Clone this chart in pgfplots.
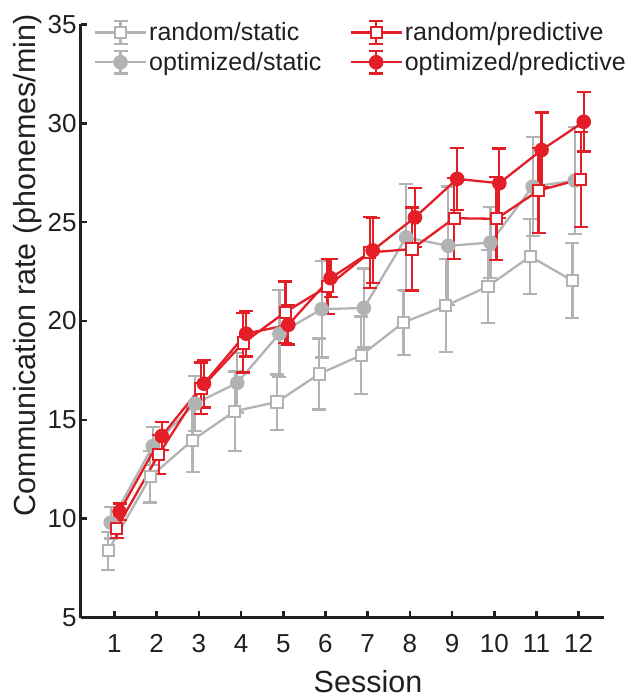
\documentclass[border=0pt]{standalone}
\usepackage{fontspec}
\setmainfont{Liberation Sans}
\usepackage{pgfplots}
\usepackage{pgfplotstable}
\pgfplotsset{compat=1.18}

\definecolor{sgray}{RGB}{178,179,181}
\definecolor{pred}{RGB}{228,30,38}
\definecolor{axdark}{RGB}{35,31,32}

% session, mean rate, error (phonemes/min)
\pgfplotstableread{
s  y      e
1  8.37   0.95
2  12.12  1.30
3  13.97  1.60
4  15.44  2.00
5  15.90  1.40
6  17.32  1.80
7  18.27  1.95
8  19.93  1.65
9  20.77  2.35
10 21.75  1.85
11 23.27  1.90
12 22.04  1.90
}\randstatic
\pgfplotstableread{
s  y      e
1  9.80   0.80
2  13.67  0.96
3  15.82  1.40
4  16.87  1.50
5  19.36  2.20
6  20.60  2.45
7  20.66  2.00
8  24.23  2.70
9  23.80  3.00
10 23.97  1.80
11 26.80  2.50
12 27.10  2.70
}\optstatic
\pgfplotstableread{
s  y      e
1  9.51   0.50
2  13.25  1.00
3  16.60  1.30
4  18.89  1.50
5  20.45  1.55
6  21.75  1.40
7  23.47  1.80
8  23.64  2.10
9  25.20  2.05
10 25.17  2.10
11 26.60  2.15
12 27.17  2.40
}\randpred
\pgfplotstableread{
s  y      e
1  10.35  0.42
2  14.18  0.70
3  16.83  1.20
4  19.36  1.15
5  19.81  1.00
6  22.17  0.95
7  23.57  1.65
8  25.24  1.50
9  27.19  1.56
10 26.97  1.75
11 28.65  1.90
12 30.08  1.50
}\optpred

\pgfplotsset{
  ebar/.style={
    error bars/.cd, y dir=both, y explicit,
    error bar style={line width=2.3pt, draw=#1},
    error mark options={rotate=90, mark size=7pt, line width=2.3pt, draw=#1},
    /pgfplots/.cd,
  },
  % legend sample: line, capped bar and marker
  legimg/.style={
    legend image code/.code={
      \draw[draw=#1, line width=2.3pt] (0pt,0pt) -- (51pt,0pt);
      \draw[draw=#1, line width=2.3pt] (25.5pt,-11.3pt) -- (25.5pt,11.3pt);
      \draw[draw=#1, line width=2.3pt] (18.5pt,-11.3pt) -- (32.5pt,-11.3pt);
      \draw[draw=#1, line width=2.3pt] (18.5pt,11.3pt) -- (32.5pt,11.3pt);
      \path[##1] plot coordinates {(25.5pt,0pt)};
    }
  },
}

\begin{document}
\begin{tikzpicture}
\useasboundingbox (-80.7pt,-80.5pt) rectangle (553.3pt,617.5pt);
\begin{axis}[
  scale only axis,
  width=523.3pt, height=593pt,
  xmin=0.2, xmax=12.6,
  ymin=5, ymax=35,
  axis x line*=bottom, axis y line*=left,
  axis line style={line width=3pt, color=axdark},
  xtick={1,...,12},
  ytick={5,10,...,35},
  tick align=inside,
  major tick length=6pt,
  tick style={line width=2.5pt, color=axdark},
  /pgf/number format/assume math mode=true,
  ticklabel style={font=\fontsize{26}{30}\selectfont, text=axdark},
  xticklabel style={inner sep=0pt, yshift=-17pt},
  yticklabel style={inner sep=0pt, xshift=-4pt},
  xlabel={Session},
  ylabel={Communication rate (phonemes/min)},
  every axis x label/.style={at={(rel axis cs:0.549,0)}, yshift=-64.5pt, anchor=center,
    font=\fontsize{30.5}{34}\selectfont, text=axdark},
  every axis y label/.style={at={(rel axis cs:0,0.594)}, xshift=-52.7pt, rotate=90, anchor=center,
    font=\fontsize{30.5}{34}\selectfont, text=axdark},
  legend columns=2,
  transpose legend,
  legend cell align=left,
  legend style={draw=none, fill=none, at={(rel axis cs:0,1)}, anchor=north west,
    xshift=10pt, yshift=6.5pt,
    font=\fontsize{25}{28}\selectfont, text=axdark,
    /tikz/every even column/.append style={column sep=26pt},
    row sep=4.7pt},
]
\addplot[color=sgray, line width=2.3pt, mark=square*,
  mark options={fill=white, draw=sgray, line width=2pt, mark size=5.6pt},
  legimg=sgray, ebar=sgray]
  table[x expr=\thisrow{s}-0.15, y=y, y error=e]{\randstatic};
\addlegendentry{random/static}
\addplot[color=sgray, line width=2.3pt, mark=*,
  mark options={fill=sgray, draw=sgray, line width=1pt, mark size=6.8pt},
  legimg=sgray, ebar=sgray]
  table[x expr=\thisrow{s}-0.09, y=y, y error=e]{\optstatic};
\addlegendentry{optimized/static}
\addplot[color=pred, line width=2.3pt, mark=square*,
  mark options={fill=white, draw=pred, line width=2pt, mark size=5.6pt},
  legimg=pred, ebar=pred]
  table[x expr=\thisrow{s}+0.05, y=y, y error=e]{\randpred};
\addlegendentry{random/predictive}
\addplot[color=pred, line width=2.3pt, mark=*,
  mark options={fill=pred, draw=pred, line width=1pt, mark size=6.8pt},
  legimg=pred, ebar=pred]
  table[x expr=\thisrow{s}+0.12, y=y, y error=e]{\optpred};
\addlegendentry{optimized/predictive}
\end{axis}
\end{tikzpicture}
\end{document}
